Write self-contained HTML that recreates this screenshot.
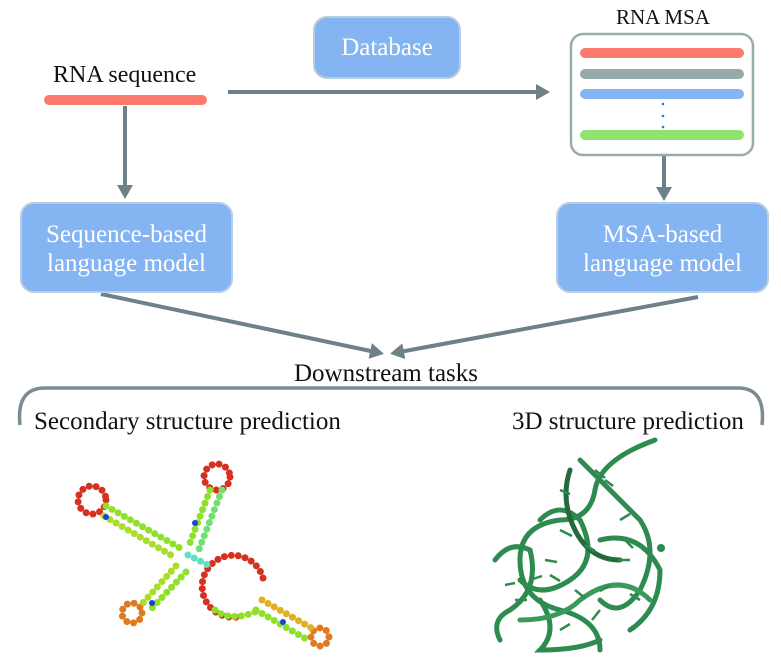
<!DOCTYPE html>
<html><head><meta charset="utf-8"><style>
html,body{margin:0;padding:0;background:#fff}
body{width:781px;height:659px;position:relative;overflow:hidden;font-family:"Liberation Serif",serif}
.t{position:absolute;white-space:nowrap;color:#111;line-height:1}
.box{position:absolute;background:#85b4f2;border:2px solid #b7cde0;border-radius:14px;box-sizing:border-box;color:#fff;text-align:center;font-family:"Liberation Serif",serif}
</style></head><body>
<svg width="781" height="659" style="position:absolute;left:0;top:0">
<defs>
<marker id="ah" markerWidth="4" markerHeight="4" refX="2.5" refY="2" orient="auto" markerUnits="strokeWidth">
<path d="M0,0 L3.5,2 L0,4 z" fill="#6e8088"/></marker>
</defs>
<g stroke="#6e8088" stroke-width="4" fill="none">
<line x1="228" y1="92" x2="546" y2="92" marker-end="url(#ah)"/>
<line x1="125" y1="106" x2="125" y2="195" marker-end="url(#ah)"/>
<line x1="664" y1="155" x2="664" y2="197" marker-end="url(#ah)"/>
<line x1="101" y1="294" x2="380" y2="353" marker-end="url(#ah)"/>
<line x1="698" y1="297" x2="394" y2="353" marker-end="url(#ah)"/>
<path d="M20,425 Q16,388 45,388 L738,388 Q766,388 762,425" stroke="#7b8b93" stroke-width="3.5"/>
</g>
<rect x="571" y="34" width="182" height="121" rx="12" fill="#fff" stroke="#9aabb0" stroke-width="2.5"/>
<g stroke-linecap="round" stroke-width="10">
<line x1="585" y1="53" x2="739" y2="53" stroke="#fd7b6b"/>
<line x1="585" y1="74" x2="739" y2="74" stroke="#97a9aa"/>
<line x1="585" y1="94" x2="739" y2="94" stroke="#85b4f2"/>
<line x1="585" y1="135" x2="739" y2="135" stroke="#92e26f"/>
<line x1="49" y1="100" x2="202" y2="100" stroke="#fd7b6b"/>
</g>
<g fill="#3b6fe0"><circle cx="663" cy="104" r="1.3"/><circle cx="663" cy="116" r="1.3"/><circle cx="663" cy="127" r="1.3"/></g>

<g fill="none" stroke-linecap="round" stroke-width="7">
<circle cx="92" cy="500" r="14" stroke="#d8301f" stroke-dasharray="0 7"/>
<circle cx="217" cy="477" r="13" stroke="#d8301f" stroke-dasharray="0 7"/>
<circle cx="132" cy="613" r="10" stroke="#e07a20" stroke-dasharray="0 7"/>
<circle cx="320" cy="637" r="9" stroke="#e07a20" stroke-dasharray="0 7"/>
<path d="M263,578 A31,31 0 1 0 238,617" stroke="#d8301f" stroke-dasharray="0 7"/>
<path d="M215,610 Q230,622 255,612" stroke="#8ee02a" stroke-dasharray="0 7"/>
<line x1="106" y1="506" x2="180" y2="548" stroke="#8ee02a" stroke-dasharray="0 7"/>
<line x1="104" y1="516" x2="176" y2="558" stroke="#a8dd2a" stroke-dasharray="0 7"/>
<line x1="210" y1="490" x2="188" y2="548" stroke="#8ee02a" stroke-dasharray="0 7"/>
<line x1="222" y1="490" x2="198" y2="552" stroke="#70e070" stroke-dasharray="0 7"/>
<line x1="176" y1="566" x2="142" y2="604" stroke="#a8dd2a" stroke-dasharray="0 7"/>
<line x1="186" y1="572" x2="152" y2="608" stroke="#8ee02a" stroke-dasharray="0 7"/>
<line x1="262" y1="600" x2="315" y2="630" stroke="#e0b020" stroke-dasharray="0 7"/>
<line x1="256" y1="610" x2="308" y2="640" stroke="#8ee02a" stroke-dasharray="0 7"/>
<line x1="188" y1="555" x2="208" y2="565" stroke="#60e0c0" stroke-dasharray="0 7"/>
</g>
<g fill="#1a40e0"><circle cx="106" cy="517" r="3"/><circle cx="152" cy="603" r="3"/><circle cx="195" cy="523" r="3"/><circle cx="283" cy="622" r="3"/></g>

<g fill="none" stroke="#2e8b4f" stroke-width="5" stroke-linecap="round">
<path d="M655,440 Q600,460 595,490 Q590,520 560,520 Q520,525 520,560 Q520,600 560,610 Q600,620 600,650"/>
<path d="M580,460 Q620,500 640,520 Q660,550 640,590 Q620,620 600,600"/>
<path d="M540,520 Q560,500 580,520 Q600,560 570,580 Q540,600 520,580"/>
<path d="M495,560 Q510,540 530,550 Q540,590 510,610 Q490,620 500,640"/>
<path d="M600,540 Q640,530 660,570 Q660,610 630,630"/>
<path d="M540,600 Q560,630 540,650 Q580,650 600,640"/>
<path d="M570,470 Q560,500 575,530 Q590,560 620,560" stroke="#246b3c"/>
<path d="M520,620 Q560,620 580,600 Q620,570 650,600" stroke="#3a9a5a"/>
</g>
<g stroke="#2e8b4f" stroke-width="2.5">
<path d="M595,470 l10,8 M605,480 l8,6 M560,530 l12,6 M545,560 l12,2 M530,580 l12,-4 M620,520 l10,-6 M630,560 l-12,0 M640,600 l-10,-6 M515,600 l12,0 M575,590 l10,8 M600,610 l-8,10 M560,630 l10,-6 M585,545 l10,6 M610,585 l-10,6 M560,490 l10,4 M625,540 l8,8 M505,585 l10,-2 M550,575 l10,6"/>
</g>
<circle cx="661" cy="548" r="4" fill="#2e8b4f"/>
</svg>

<div class="t" style="left:53px;top:63px;font-size:24px">RNA sequence</div>
<div class="t" style="left:616px;top:7px;font-size:21px">RNA MSA</div>
<div class="box" style="left:313px;top:16px;width:148px;height:63px;font-size:25px;line-height:59px">Database</div>
<div class="box" style="left:20px;top:202px;width:213px;height:91px;font-size:25px;line-height:29px;padding-top:16px">Sequence-based<br>language model</div>
<div class="box" style="left:556px;top:202px;width:213px;height:91px;font-size:25px;line-height:29px;padding-top:16px">MSA-based<br>language model</div>
<div class="t" style="left:294px;top:361px;font-size:25px">Downstream tasks</div>
<div class="t" style="left:34px;top:409px;font-size:25px">Secondary structure prediction</div>
<div class="t" style="left:512px;top:409px;font-size:25px">3D structure prediction</div>
</body></html>
